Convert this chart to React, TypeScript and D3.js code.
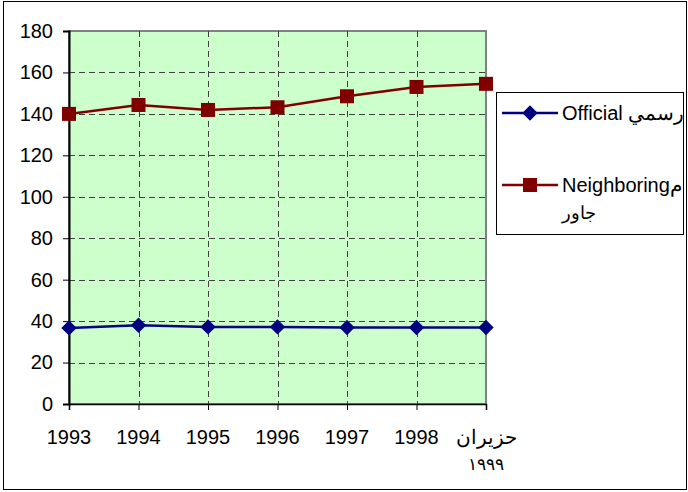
import React, { useEffect, useRef } from 'react';
import * as d3 from 'd3';

const years = ['1993', '1994', '1995', '1996', '1997', '1998', '1999'];
const yearLabels = ['1993', '1994', '1995', '1996', '1997', '1998', 'حزيران\n١٩٩٩'];
const official = [36.7, 38, 37.2, 37.2, 36.9, 36.9, 36.9];
const neighboring = [140, 144.3, 141.9, 143.2, 148.5, 153, 154.5];
const yTicks = [0, 20, 40, 60, 80, 100, 120, 140, 160, 180];

const App: React.FC = () => {
  const ref = useRef<SVGSVGElement>(null);

  useEffect(() => {
    if (!ref.current) return;
    const svg = d3.select(ref.current);
    svg.selectAll('*').remove();

    const font = 'Liberation Sans, Arial, sans-serif';
    const fs = 20;
    const left = 69, right = 486, top = 31, bottom = 404;

    // outer chart border
    svg.append('rect')
      .attr('x', 3.5).attr('y', 1.5).attr('width', 683).attr('height', 488)
      .attr('fill', 'white').attr('stroke', 'black').attr('stroke-width', 1);

    const x = d3.scalePoint<string>().domain(years).range([left, right]);
    const y = d3.scaleLinear().domain([0, 180]).range([bottom, top]);

    // plot area
    svg.append('rect')
      .attr('x', left).attr('y', top).attr('width', right - left).attr('height', bottom - top)
      .attr('fill', '#CCFFCC').attr('stroke', '#808080').attr('stroke-width', 2);

    // gridlines
    const grid = svg.append('g')
      .attr('stroke', '#404040').attr('stroke-width', 1).attr('stroke-dasharray', '6,4');
    yTicks.filter(t => t > 0 && t < 180).forEach(t => {
      grid.append('line')
        .attr('x1', left).attr('x2', right)
        .attr('y1', Math.round(y(t)) + 0.5).attr('y2', Math.round(y(t)) + 0.5);
    });
    years.slice(1, -1).forEach(yr => {
      grid.append('line')
        .attr('x1', Math.round(x(yr)!) + 0.5).attr('x2', Math.round(x(yr)!) + 0.5)
        .attr('y1', top).attr('y2', bottom);
    });

    // axes
    const yAxis = svg.append('g')
      .attr('transform', `translate(${left},0)`)
      .call(d3.axisLeft(y).tickValues(yTicks).tickSize(6).tickPadding(10).tickFormat(d3.format('d')));
    yAxis.select('.domain').attr('stroke', 'black').attr('stroke-width', 2);
    yAxis.selectAll('.tick line').attr('stroke', 'black');
    yAxis.selectAll('text').attr('font-family', font).attr('font-size', fs).attr('fill', 'black');

    const xAxis = svg.append('g')
      .attr('transform', `translate(0,${bottom})`)
      .call(d3.axisBottom(x).tickSize(6).tickFormat(() => ''));
    xAxis.select('.domain').attr('stroke', 'black').attr('stroke-width', 1.5);
    xAxis.selectAll('.tick line').attr('stroke', 'black');

    yearLabels.forEach((lab, i) => {
      const lines = lab.split('\n');
      lines.forEach((ln, j) => {
        svg.append('text')
          .attr('x', x(years[i])!)
          .attr('y', 444 + j * 26)
          .attr('text-anchor', 'middle')
          .attr('font-family', font).attr('font-size', j > 0 ? 17 : fs)
          .attr('fill', 'black')
          .text(ln);
      });
    });

    const line = d3.line<number>().x((_, i) => x(years[i])!).y(d => y(d));

    // neighboring series
    svg.append('path').datum(neighboring)
      .attr('fill', 'none').attr('stroke', '#800000').attr('stroke-width', 2.5).attr('d', line);
    svg.selectAll('.sq').data(neighboring).enter().append('rect')
      .attr('x', (_, i) => x(years[i])! - 7).attr('y', d => y(d) - 7)
      .attr('width', 14).attr('height', 14).attr('fill', '#800000');

    // official series
    svg.append('path').datum(official)
      .attr('fill', 'none').attr('stroke', '#000080').attr('stroke-width', 2.5).attr('d', line);
    const diamond = d3.symbol().type(d3.symbolDiamond2).size(150);
    svg.selectAll('.dm').data(official).enter().append('path')
      .attr('transform', (d, i) => `translate(${x(years[i])},${y(d)})`)
      .attr('d', diamond()).attr('fill', '#000080');

    // legend
    const lg = svg.append('g');
    lg.append('rect')
      .attr('x', 496.5).attr('y', 92.5).attr('width', 187).attr('height', 142)
      .attr('fill', 'white').attr('stroke', 'black').attr('stroke-width', 1);
    lg.append('line').attr('x1', 502).attr('x2', 558).attr('y1', 113).attr('y2', 113)
      .attr('stroke', '#000080').attr('stroke-width', 2.5);
    lg.append('path').attr('transform', 'translate(530,113)').attr('d', diamond()).attr('fill', '#000080');
    lg.append('text').attr('x', 562).attr('y', 120)
      .attr('font-family', font).attr('font-size', fs).attr('fill', 'black')
      .text('Official رسمي');

    lg.append('line').attr('x1', 502).attr('x2', 558).attr('y1', 185).attr('y2', 185)
      .attr('stroke', '#800000').attr('stroke-width', 2.5);
    lg.append('rect').attr('x', 523).attr('y', 178).attr('width', 14).attr('height', 14).attr('fill', '#800000');
    lg.append('text').attr('x', 562).attr('y', 192)
      .attr('font-family', font).attr('font-size', fs).attr('fill', 'black')
      .text('Neighboringم');
    lg.append('text').attr('x', 562).attr('y', 219)
      .attr('font-family', font).attr('font-size', 18).attr('fill', 'black')
      .text('جاور');
  }, []);

  return (
    <svg ref={ref} width={688} height={492}
      style={{ position: 'absolute', left: 0, top: 0, display: 'block', background: 'white' }} />
  );
};

export default App;
